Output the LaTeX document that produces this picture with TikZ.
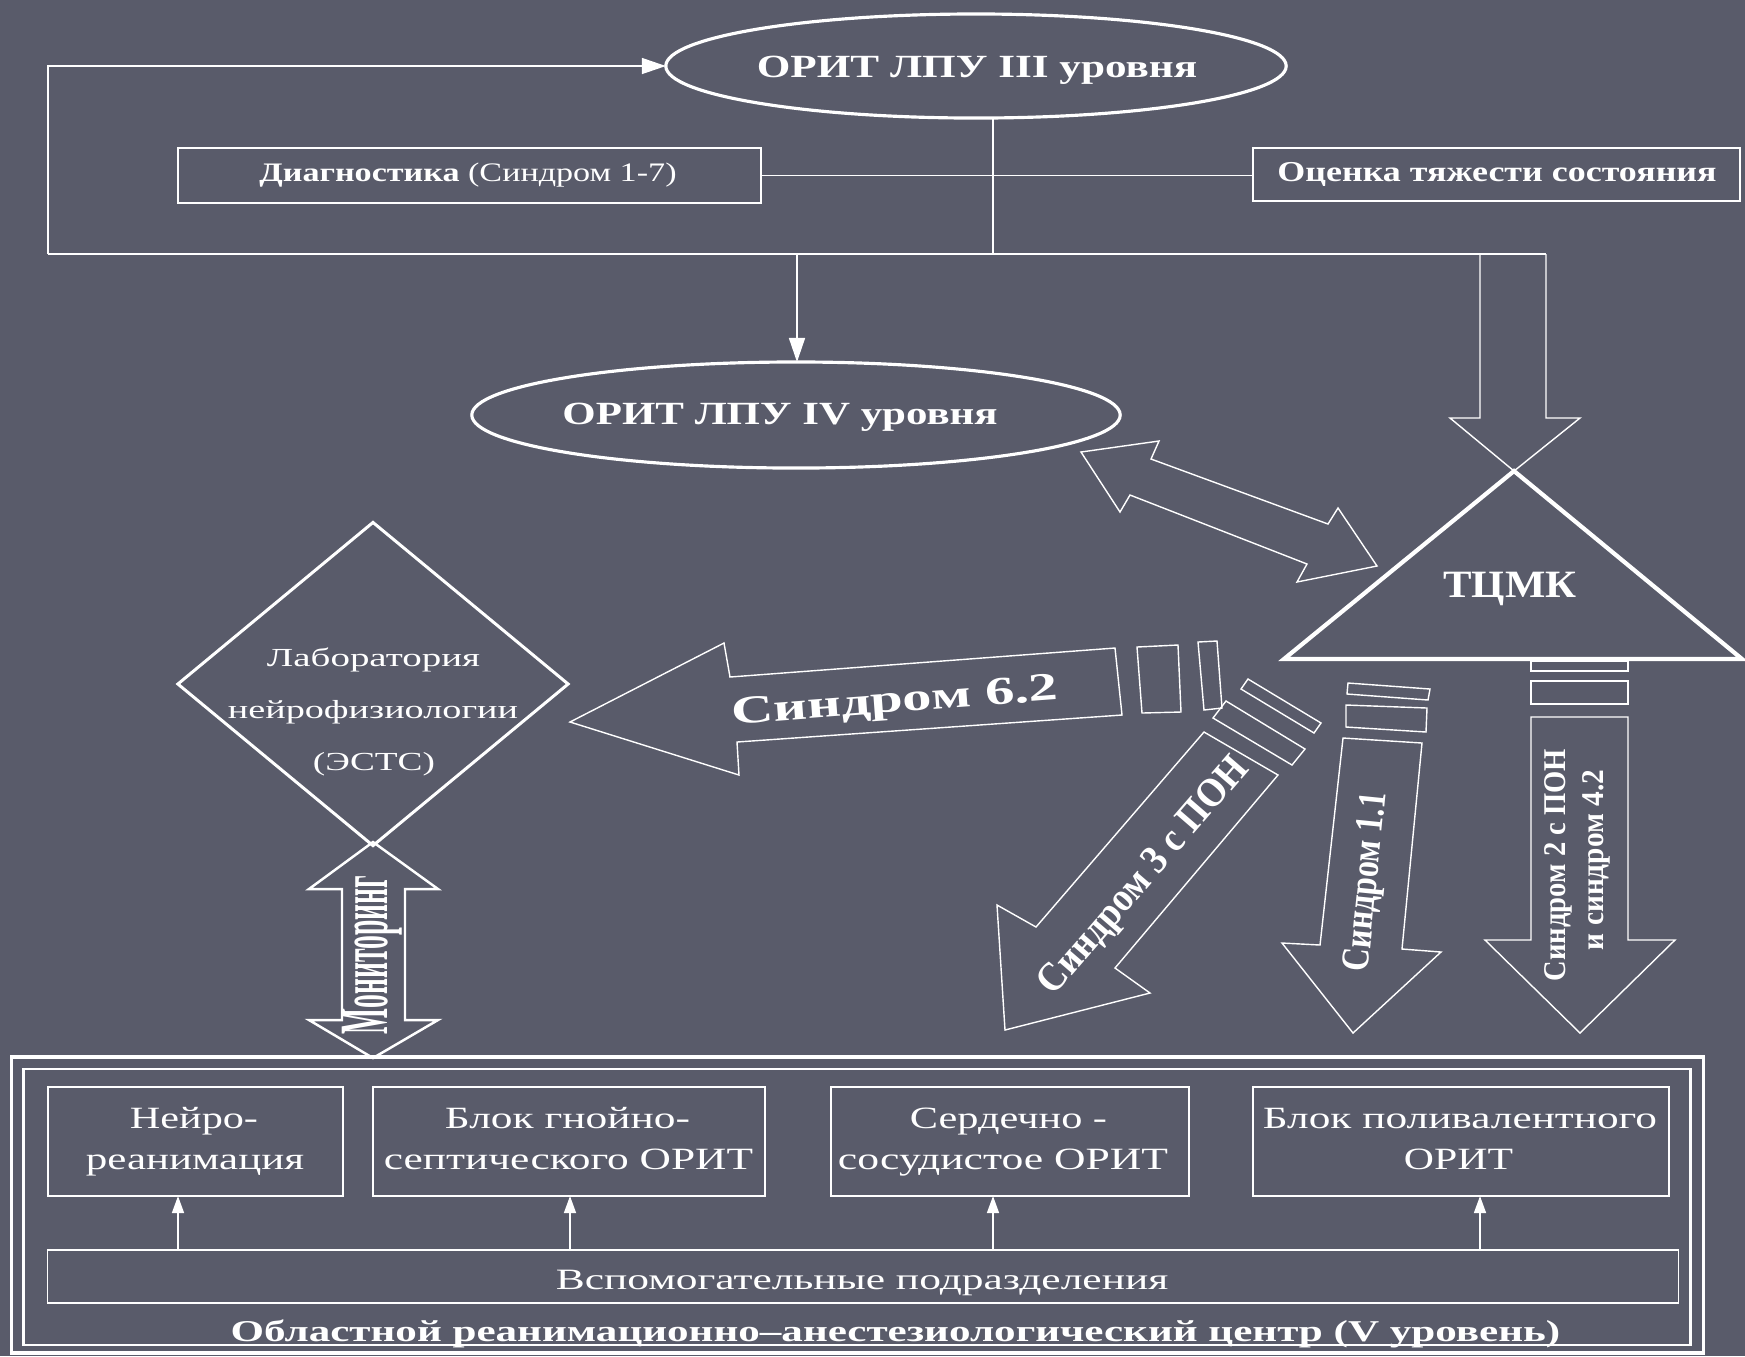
\documentclass[tikz,border=0pt]{standalone}
\usepackage{fontspec}
\setmainfont{Liberation Serif}
\usepackage{graphicx}
\usetikzlibrary{arrows.meta,shapes.geometric}
\definecolor{bg}{RGB}{89,91,106}
\newcommand\fw[2]{\resizebox{#1}{\height}{#2}}
\newcommand\fsz[1]{\fontsize{#1}{#1}\selectfont}
\begin{document}
\begin{tikzpicture}[x=0.01cm,y=-0.01cm,
  every node/.style={text=white, inner sep=0pt, outer sep=0pt},
  ln/.style={draw=white, line width=0.45pt},
  lnt/.style={draw=white, line width=1.2pt, line join=miter},
  arrtip/.style={-{Triangle[length=0.24cm,width=0.16cm]}},
  sarrtip/.style={-{Triangle[length=0.17cm,width=0.12cm]}},
  box/.style={rectangle, draw=white, line width=0.5pt},
  ell/.style={ellipse, draw=white, line width=0.9pt},
  hollow/.style={draw=white, line width=0.4pt, line join=miter},
  lbl/.style={anchor=base}]
\fill[bg] (0,0) rectangle (1745,1356);
\useasboundingbox (0,0) rectangle (1745,1356);

% ---- top level
\node[ell, minimum width=6.2cm, minimum height=1.04cm] (e3) at (976,66) {};
\node[lbl, font=\fsz{9.2}\bfseries] (t3) at (977,77) {\fw{4.40cm}{ОРИТ ЛПУ III уровня}};
\node[box, minimum width=5.83cm, minimum height=0.55cm] (diag) at (469.5,175.5) {};
\node[lbl, font=\fsz{7.6}] (tdiag) at (468,181) {\fw{4.17cm}{{\bfseries Диагностика} (Синдром 1-7)}};
\node[box, minimum width=4.87cm, minimum height=0.53cm] (ocen) at (1496.5,174.5) {};
\node[lbl, font=\fsz{8.2}\bfseries] (tocen) at (1497,181) {\fw{4.39cm}{Оценка тяжести состояния}};

\coordinate (lc) at (48,254);
\coordinate (vb) at (993,254);
\coordinate (d4) at (797,254);
\coordinate (rc) at (1546,254);
\draw[ln, arrtip] (lc) |- (e3.west);
\draw[ln] (lc) -- (rc);
\draw[ln] (vb |- e3.south) -- (vb);
\draw[ln] (diag.east) -- (diag.east -| ocen.west);

\node[ell, minimum width=6.48cm, minimum height=1.06cm] (e4) at (796,415) {};
\draw[ln, arrtip] (d4) -- (d4 |- e4.north);
\node[lbl, font=\fsz{9.2}\bfseries] (t4) at (780,424) {\fw{4.35cm}{ОРИТ ЛПУ IV уровня}};

% ---- TCMK
\draw[hollow] (1480,254) -- (1480,418) -- (1450,418) -- (1514,471) -- (1580,418) -- (1546,418) -- (rc);
\draw[lnt] (1514,471) -- (1284,659) -- (1742,659) -- cycle;
\node[lbl, font=\fsz{11}\bfseries] (tcmk) at (1510,597) {\fw{1.33cm}{ТЦМК}};

% double arrow between ORIT IV and TCMK
\draw[hollow] (1081,452) -- (1159,441) -- (1151,459) -- (1328,524) -- (1338,508) -- (1377,566)
  -- (1297,582) -- (1307,564) -- (1130,495) -- (1120,512) -- cycle;

% ---- laboratory
\node[diamond, draw=white, line width=0.85pt, minimum width=3.9cm, minimum height=3.23cm] (lab) at (373,684) {};
\node[lbl, font=\fsz{7.4}] (lab1) at (373.5,666) {\fw{2.13cm}{Лаборатория}};
\node[lbl, font=\fsz{7.4}] (lab2) at (373,718) {\fw{2.90cm}{нейрофизиологии}};
\node[lbl, font=\fsz{7.4}] (lab3) at (374,770) {\fw{1.22cm}{(ЭСТС)}};

% monitoring double arrow
\draw[hollow, line width=0.7pt] (373,842) -- (438,889) -- (405,889) -- (405,1020) -- (438,1020) -- (373,1058)
  -- (309,1020) -- (342,1020) -- (342,889) -- (309,889) -- cycle;
\node[rotate=90, font=\bfseries] (mon) at (372,955) {\resizebox*{1.58cm}{0.60cm}{Мониторинг}};

% ---- syndrome 6.2
\draw[hollow] (570,722) -- (724,643) -- (730,677) -- (1115,648) -- (1122,715) -- (737,742) -- (739,775) -- cycle;
\draw[hollow] (1137,647) -- (1178,645) -- (1181,712) -- (1142,713) -- cycle;
\draw[hollow] (1198,642) -- (1217,641) -- (1222,708) -- (1204,710) -- cycle;
\node[lbl, rotate=4.3, font=\fsz{11.2}\bfseries] (s62) at (896,712) {\fw{3.27cm}{Синдром 6.2}};

% ---- syndrome 3
\draw[hollow] (1005,1030) -- (997,905) -- (1036,927) -- (1204,732) -- (1278,775) -- (1115,968) -- (1150,993) -- cycle;
\draw[hollow] (1213,718) -- (1226,701) -- (1305,749) -- (1292,765) -- cycle;
\draw[hollow] (1241,689) -- (1248,679) -- (1321,723) -- (1314,733) -- cycle;
\node[rotate=49.2, font=\fsz{11.6}\bfseries] (s3) at (1145,877) {\fw{3.00cm}{Синдром 3 с ПОН}};

% ---- syndrome 1.1
\draw[hollow] (1353,1033) -- (1282,943) -- (1320,945) -- (1343,738) -- (1422,743) -- (1402,949) -- (1441,952) -- cycle;
\draw[hollow] (1346,705) -- (1427,708) -- (1426,732) -- (1346,727) -- cycle;
\draw[hollow] (1348,683) -- (1430,689) -- (1428,700) -- (1347,694) -- cycle;
\node[rotate=84.2, font=\fsz{11.2}\bfseries] (s11) at (1368,882) {\fw{1.80cm}{Синдром 1.1}};

% ---- syndrome 2 / 4.2
\draw[hollow] (1531,661) rectangle (1628,671);
\draw[hollow] (1531,681) rectangle (1628,704);
\draw[hollow] (1531,717) -- (1531,940) -- (1485,940) -- (1580,1033) -- (1675,940) -- (1628,940) -- (1628,717) -- cycle;
\node[rotate=90, font=\fsz{9}\bfseries] (s2a) at (1558,865) {\fw{2.32cm}{Синдром 2 с ПОН}};
\node[rotate=90, font=\fsz{9}\bfseries] (s2b) at (1596,860) {\fw{1.80cm}{и синдром 4.2}};

% ---- regional centre
\node[draw=white, line width=1.1pt, minimum width=16.91cm, minimum height=2.96cm] (outer) at (857.5,1205) {};
\node[draw=white, line width=0.6pt, minimum width=16.66cm, minimum height=2.76cm] (inner) at (857,1207) {};

\node[box, minimum width=2.95cm, minimum height=1.09cm] (b1) at (195.5,1141.5) {};
\node[box, minimum width=3.92cm, minimum height=1.09cm] (b2) at (569,1141.5) {};
\node[box, minimum width=3.58cm, minimum height=1.09cm] (b3) at (1010,1141.5) {};
\node[box, minimum width=4.16cm, minimum height=1.09cm] (b4) at (1461,1141.5) {};
\node[box, minimum width=16.30cm, minimum height=0.53cm] (vsp) at (863,1276.5) {};

\node[lbl, font=\fsz{8.8}] (b1a) at (194,1128) {\fw{1.28cm}{Нейро-}};
\node[lbl, font=\fsz{8.8}] (b1b) at (195,1169) {\fw{2.18cm}{реанимация}};
\node[lbl, font=\fsz{8.8}] (b2a) at (567.5,1128) {\fw{2.45cm}{Блок гнойно-}};
\node[lbl, font=\fsz{8.8}] (b2b) at (568.5,1169) {\fw{3.69cm}{септического ОРИТ}};
\node[lbl, font=\fsz{8.8}] (b3a) at (1008.5,1128) {\fw{1.97cm}{Сердечно -}};
\node[lbl, font=\fsz{8.8}] (b3b) at (1003,1169) {\fw{3.30cm}{сосудистое ОРИТ}};
\node[lbl, font=\fsz{8.8}] (b4a) at (1460,1128) {\fw{3.94cm}{Блок поливалентного}};
\node[lbl, font=\fsz{8.8}] (b4b) at (1458.5,1169) {\fw{1.09cm}{ОРИТ}};
\node[lbl, font=\fsz{8.4}] (tvsp) at (862,1289) {\fw{6.12cm}{Вспомогательные подразделения}};
\node[lbl, font=\fsz{8.6}\bfseries] (tobl) at (895.5,1341) {\fw{13.29cm}{Областной реанимационно–анестезиологический центр (V уровень)}};

\coordinate (a1) at (178,0);
\coordinate (a2) at (570,0);
\coordinate (a3) at (993,0);
\coordinate (a4) at (1480,0);
\draw[ln, sarrtip] (vsp.north -| a1) -- (b1.south -| a1);
\draw[ln, sarrtip] (vsp.north -| a2) -- (b2.south -| a2);
\draw[ln, sarrtip] (vsp.north -| a3) -- (b3.south -| a3);
\draw[ln, sarrtip] (vsp.north -| a4) -- (b4.south -| a4);
\end{tikzpicture}
\end{document}
